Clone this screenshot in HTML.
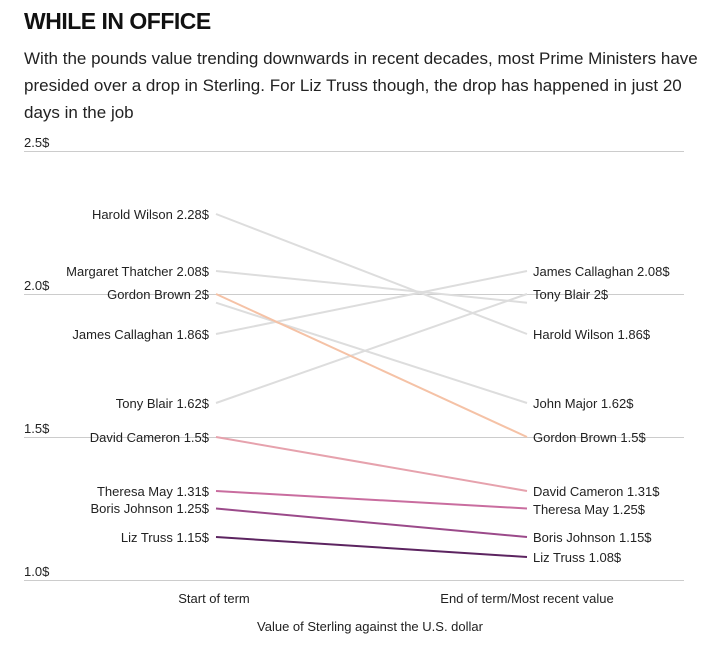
<!DOCTYPE html>
<html><head><meta charset="utf-8"><style>
body{margin:0;background:#fff;font-family:"Liberation Sans",sans-serif;}
h1{position:absolute;left:24px;top:8px;margin:0;font-size:23px;font-weight:bold;letter-spacing:-0.5px;color:#111}
p{position:absolute;left:24px;top:45px;margin:0;width:680px;font-size:17px;line-height:27px;color:#222}
</style></head><body>
<h1>WHILE IN OFFICE</h1>
<p>With the pounds value trending downwards in recent decades, most Prime Ministers have presided over a drop in Sterling. For Liz Truss though, the drop has happened in just 20 days in the job</p>
<svg width="720" height="656" style="position:absolute;left:0;top:0" font-family="Liberation Sans, sans-serif" font-size="13" fill="#222">
<g stroke="#ccc" stroke-width="1">
<line x1="24" x2="684" y1="151.5" y2="151.5"/><line x1="24" x2="684" y1="294.5" y2="294.5"/>
<line x1="24" x2="684" y1="437.5" y2="437.5"/><line x1="24" x2="684" y1="580.5" y2="580.5"/>
</g>
<text x="24" y="147">2.5$</text><text x="24" y="290">2.0$</text><text x="24" y="433">1.5$</text><text x="24" y="576">1.0$</text>
<g stroke-width="2" fill="none">
<line x1="216" y1="214" x2="527" y2="334" stroke="#ddd"/>
<line x1="216" y1="271" x2="527" y2="302.7" stroke="#ddd"/>
<line x1="216" y1="302.7" x2="527" y2="403" stroke="#ddd"/>
<line x1="216" y1="334" x2="527" y2="271" stroke="#ddd"/>
<line x1="216" y1="403" x2="527" y2="294" stroke="#ddd"/>
<line x1="216" y1="294" x2="527" y2="437" stroke="#f5c2a6"/>
<line x1="216" y1="437" x2="527" y2="491" stroke="#e6a2ad"/>
<line x1="216" y1="491" x2="527" y2="508.5" stroke="#c96d9f"/>
<line x1="216" y1="508.5" x2="527" y2="537" stroke="#9b4a8a"/>
<line x1="216" y1="537" x2="527" y2="557" stroke="#5c2460"/>
</g>
<g text-anchor="end">
<text x="209" y="219">Harold Wilson 2.28$</text>
<text x="209" y="276">Margaret Thatcher 2.08$</text>
<text x="209" y="299">Gordon Brown 2$</text>
<text x="209" y="339">James Callaghan 1.86$</text>
<text x="209" y="408">Tony Blair 1.62$</text>
<text x="209" y="442">David Cameron 1.5$</text>
<text x="209" y="496">Theresa May 1.31$</text>
<text x="209" y="513">Boris Johnson 1.25$</text>
<text x="209" y="542">Liz Truss 1.15$</text>
</g>
<text x="533" y="276">James Callaghan 2.08$</text>
<text x="533" y="299">Tony Blair 2$</text>
<text x="533" y="339">Harold Wilson 1.86$</text>
<text x="533" y="408">John Major 1.62$</text>
<text x="533" y="442">Gordon Brown 1.5$</text>
<text x="533" y="496">David Cameron 1.31$</text>
<text x="533" y="514">Theresa May 1.25$</text>
<text x="533" y="542">Boris Johnson 1.15$</text>
<text x="533" y="562">Liz Truss 1.08$</text>
<text x="214" y="603" text-anchor="middle">Start of term</text>
<text x="527" y="603" text-anchor="middle">End of term/Most recent value</text>
<text x="370" y="631" text-anchor="middle">Value of Sterling against the U.S. dollar</text>
</svg>
</body></html>
